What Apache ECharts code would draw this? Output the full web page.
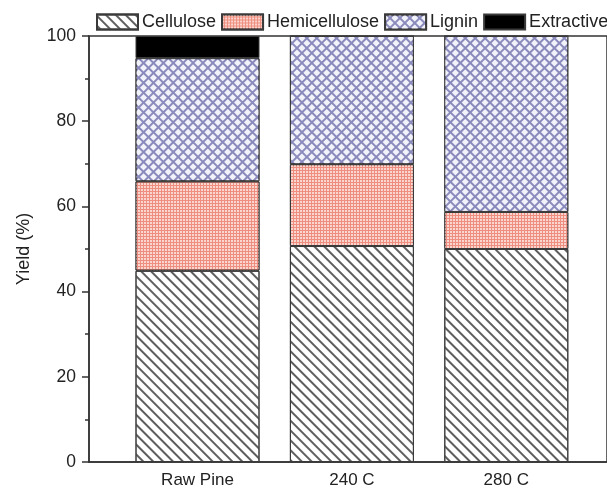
<!DOCTYPE html>
<html>
<head>
<meta charset="utf-8">
<script src="https://cdn.jsdelivr.net/npm/echarts@6/dist/echarts.min.js"></script>
<style>
html,body{margin:0;padding:0;background:#fff;}
#chart{width:607px;height:490px;}
</style>
</head>
<body>
<div id="chart"></div>
<script>
const categories = ['Raw Pine', '240 C', '280 C'];
const cellulose = [44.9, 50.7, 50.0];
const hemicellulose = [21.0, 19.2, 8.7];
const lignin = [28.9, 30.1, 41.3];
const extractive = [5.2, 0, 0];
const yTicks = [0, 20, 40, 60, 80, 100];

const FONT = 'Liberation Sans, Arial, sans-serif';
const chart = echarts.init(document.getElementById('chart'), null, {renderer: 'canvas'});

const border = {borderColor: '#3a3a3a', borderWidth: 1};
const axisCol = '#333';

chart.setOption({
  animation: false,
  aria: {enabled: false},
  textStyle: {fontFamily: FONT},
  grid: [
    {left: 89, right: -20, top: 36, bottom: 28, show: true, borderColor: axisCol, borderWidth: 1.5, backgroundColor: 'transparent'},
    {left: 120.3, right: 23.5, top: 36, bottom: 28}
  ],
  legend: {
    left: 91, top: 8, width: 700, icon: 'rect',
    itemWidth: 41, itemHeight: 15, itemGap: 5,
    textStyle: {fontFamily: FONT, fontSize: 18, color: '#222', padding: [0, 0, 0, -1]},
    data: ['Cellulose', 'Hemicellulose', 'Lignin', 'Extractive']
  },
  xAxis: [
    {
      type: 'value', gridIndex: 0, min: 0, max: 1,
      splitLine: {show: false},
      axisLine: {show: true, lineStyle: {color: axisCol, width: 1.5}},
      axisTick: {show: false},
      axisLabel: {show: false}
    },
    {
      type: 'category', gridIndex: 1, data: categories,
      axisLine: {show: false},
      axisTick: {show: false},
      axisLabel: {fontFamily: FONT, fontSize: 17, color: '#222', margin: 10}
    }
  ],
  yAxis: [
    {
      type: 'value', gridIndex: 0, min: 0, max: 100, interval: 20,
      name: 'Yield (%)', nameLocation: 'middle', nameGap: 56,
      nameTextStyle: {fontFamily: FONT, fontSize: 18, color: '#222'},
      splitLine: {show: false},
      axisLine: {show: true, lineStyle: {color: axisCol, width: 1.5}},
      axisTick: {show: true, length: 7, lineStyle: {color: axisCol, width: 1.5}},
      minorTick: {show: true, splitNumber: 2, length: 4, lineStyle: {color: axisCol, width: 1.5}},
      axisLabel: {customValues: yTicks, fontFamily: FONT, fontSize: 17.5, color: '#222', margin: 13}
    },
    {
      type: 'value', gridIndex: 1, min: 0, max: 100, interval: 20, show: false,
      splitLine: {show: false}
    }
  ],
  series: [
    {
      name: 'Cellulose', type: 'bar', stack: 'total', barWidth: 124, xAxisIndex: 1, yAxisIndex: 1,
      data: cellulose,
      itemStyle: Object.assign({color: '#ffffff', decal: {
        symbol: 'rect', symbolSize: 1, color: '#5e5e5e',
        dashArrayX: [1, 0], dashArrayY: [1.7, 4.6], rotation: Math.PI / 4
      }}, border)
    },
    {
      name: 'Hemicellulose', type: 'bar', stack: 'total', barWidth: 124, xAxisIndex: 1, yAxisIndex: 1,
      data: hemicellulose,
      itemStyle: Object.assign({color: '#ee8e80', decal: {
        symbol: 'rect', symbolSize: 1, color: '#fad6ce',
        dashArrayX: [2, 1], dashArrayY: [2, 1], rotation: 0
      }}, border)
    },
    {
      name: 'Lignin', type: 'bar', stack: 'total', barWidth: 124, xAxisIndex: 1, yAxisIndex: 1,
      data: lignin,
      itemStyle: Object.assign({color: '#8a8abc', decal: {
        symbol: 'rect', symbolSize: 1, color: '#f2f2fb',
        dashArrayX: [4.4, 1.4], dashArrayY: [4.4, 1.4], rotation: Math.PI / 4
      }}, border)
    },
    {
      name: 'Extractive', type: 'bar', stack: 'total', barWidth: 124, xAxisIndex: 1, yAxisIndex: 1,
      data: extractive,
      itemStyle: Object.assign({color: '#000000'}, border)
    }
  ]
});
</script>
</body>
</html>
